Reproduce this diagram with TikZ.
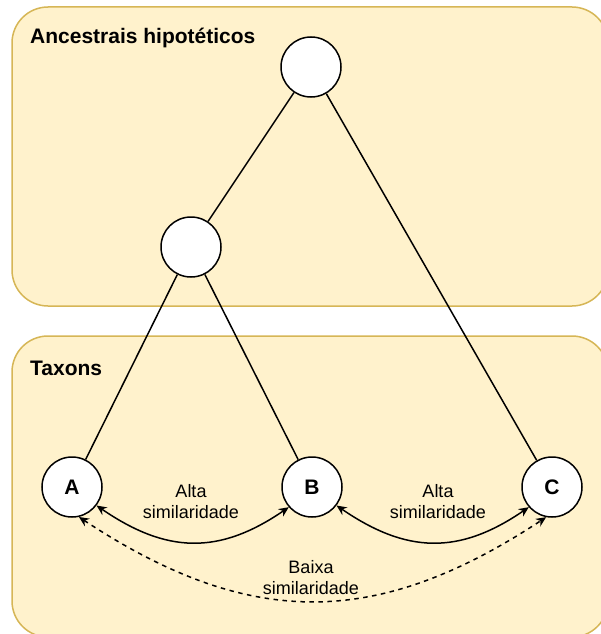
\documentclass[tikz,border=0pt]{standalone}
\usepackage{fontspec}
\setmainfont{Liberation Sans}
\usetikzlibrary{arrows.meta}
\definecolor{grpfill}{HTML}{FFF2CC}
\definecolor{grpdraw}{HTML}{D6B656}
\tikzset{
  grp/.style={fill=grpfill, draw=grpdraw, line width=1.5pt, rounded corners=36pt},
  title/.style={anchor=west, inner sep=0pt, font=\fontsize{21}{24}\selectfont\bfseries},
  circ/.style={circle, draw=black, fill=white, line width=1.5pt, minimum size=60pt, inner sep=0pt, font=\fontsize{21}{24}\selectfont\bfseries},
  branch/.style={line width=1.5pt},
  sim/.style={line width=1.5pt, {Stealth[length=10pt,width=9pt]}-{Stealth[length=10pt,width=9pt]}},
  lbl/.style={align=center, inner sep=0pt, font=\fontsize{18}{21}\selectfont}
}
\begin{document}
\begin{tikzpicture}[x=1pt,y=-1pt]
\useasboundingbox (0,0) rectangle (601,634);
\begin{scope}
\clip (0,0) rectangle (601,634);
\draw[grp] (12,7) rectangle (608,306);
\draw[grp] (12,336) rectangle (608,637);
\end{scope}
\node[title] (t1) at (30,38) {Ancestrais hipotéticos};
\node[title] (t2) at (30,368) {Taxons};
\node[circ] (root) at (311,67) {};
\node[circ] (mid) at (191,247) {};
\node[circ] (A) at (72,487) {A};
\node[circ] (B) at (312,487) {B};
\node[circ] (C) at (552,487) {C};
\draw[branch] (root) -- (mid);
\draw[branch] (root) -- (C);
\draw[branch] (mid) -- (A);
\draw[branch] (mid) -- (B);
\draw[sim] (A.-37) .. controls +(70,48) and +(-70,48) .. (B.-139);
\draw[sim] (B.-37) .. controls +(70,48) and +(-70,48) .. (C.-139);
\draw[sim, dash pattern=on 4.5pt off 4.5pt] (A.-77) .. controls +(170,112) and +(-170,112) .. (C.-101);
\node[lbl] (l1) at (191,502) {Alta\\similaridade};
\node[lbl] (l2) at (438,502) {Alta\\similaridade};
\node[lbl] (l3) at (311,578) {Baixa\\similaridade};
\end{tikzpicture}
\end{document}
